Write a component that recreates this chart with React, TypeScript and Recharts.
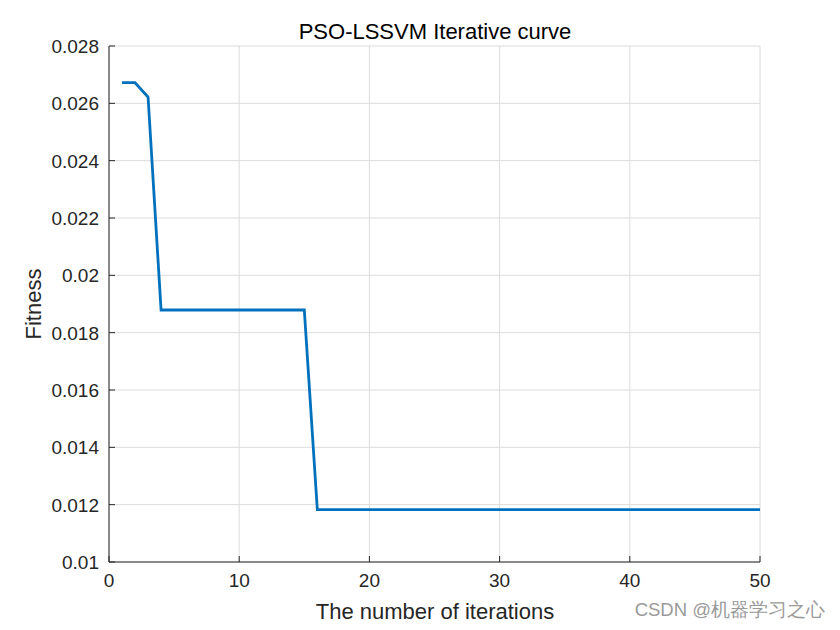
import React from "react";
import { LineChart, Line, XAxis, YAxis, CartesianGrid } from "recharts";

const iterations: number[] = Array.from({ length: 50 }, (_, i) => i + 1);
const fitnessValues: number[] = [
  0.02672, 0.02672, 0.02622, 0.01879, 0.01879, 0.01879, 0.01879, 0.01879, 0.01879, 0.01879,
  0.01879, 0.01879, 0.01879, 0.01879, 0.01879, 0.01183, 0.01183, 0.01183, 0.01183, 0.01183,
  0.01183, 0.01183, 0.01183, 0.01183, 0.01183, 0.01183, 0.01183, 0.01183, 0.01183, 0.01183,
  0.01183, 0.01183, 0.01183, 0.01183, 0.01183, 0.01183, 0.01183, 0.01183, 0.01183, 0.01183,
  0.01183, 0.01183, 0.01183, 0.01183, 0.01183, 0.01183, 0.01183, 0.01183, 0.01183, 0.01183,
];
const xTicks: number[] = [0, 10, 20, 30, 40, 50];
const yTicks: number[] = [0.01, 0.012, 0.014, 0.016, 0.018, 0.02, 0.022, 0.024, 0.026, 0.028];

const data = iterations.map((it, i) => ({ it, fit: fitnessValues[i] }));

const FONT = "'Liberation Sans', Arial, Helvetica, sans-serif";
const AX = "#262626";
const fmtY = (v: number) => String(+v.toFixed(3));

const BottomTick = (props: any) => {
  const { x, y, payload } = props;
  return (
    <g>
      <line x1={x} y1={y} x2={x} y2={y - 6} stroke={AX} strokeWidth={1} />
      <text x={x} y={y + 25} textAnchor="middle" fill={AX} fontSize={19} fontFamily={FONT}>
        {payload.value}
      </text>
    </g>
  );
};
const TopTick = (props: any) => {
  const { x, y } = props;
  return <line x1={x} y1={y} x2={x} y2={y + 6} stroke={AX} strokeWidth={1} />;
};
const LeftTick = (props: any) => {
  const { x, y, payload } = props;
  return (
    <g>
      <line x1={x} y1={y} x2={x + 6} y2={y} stroke={AX} strokeWidth={1} />
      <text x={x - 10} y={y + 7} textAnchor="end" fill={AX} fontSize={19} fontFamily={FONT}>
        {fmtY(payload.value)}
      </text>
    </g>
  );
};
const RightTick = (props: any) => {
  const { x, y } = props;
  return <line x1={x} y1={y} x2={x - 6} y2={y} stroke={AX} strokeWidth={1} />;
};

export default function App() {
  return (
    <div style={{ position: "absolute", left: 0, top: 0, width: 840, height: 630, background: "#fff" }}>
      <LineChart
        width={840}
        height={630}
        data={data}
        margin={{ top: 46, right: 80, bottom: 38, left: 49 }}
      >
        <CartesianGrid stroke="#dcdcdc" strokeWidth={1} xAxisId="b" yAxisId="l" />
        <XAxis
          xAxisId="b"
          dataKey="it"
          type="number"
          domain={[0, 50]}
          ticks={xTicks}
          height={30}
          tickSize={0}
          tickMargin={0}
          tick={<BottomTick />}
          tickLine={false}
          stroke={AX}
        />
        <XAxis
          xAxisId="t"
          orientation="top"
          dataKey="it"
          type="number"
          domain={[0, 50]}
          ticks={xTicks}
          height={0}
          tickSize={0}
          tickMargin={0}
          tick={<TopTick />}
          tickLine={false}
          stroke={AX}
        />
        <YAxis
          yAxisId="l"
          type="number"
          domain={[0.01, 0.028]}
          ticks={yTicks}
          width={60}
          tickSize={0}
          tickMargin={0}
          tick={<LeftTick />}
          tickLine={false}
          stroke={AX}
        />
        <YAxis
          yAxisId="r"
          orientation="right"
          type="number"
          domain={[0.01, 0.028]}
          ticks={yTicks}
          width={0}
          tickSize={0}
          tickMargin={0}
          tick={<RightTick />}
          tickLine={false}
          stroke={AX}
        />
        <Line
          xAxisId="b"
          yAxisId="l"
          type="linear"
          dataKey="fit"
          stroke="#0072BD"
          strokeWidth={2.8}
          dot={false}
          isAnimationActive={false}
        />
        <text x={435} y={39} textAnchor="middle" fill="#000" fontSize={22} fontFamily={FONT}>
          PSO-LSSVM Iterative curve
        </text>
        <text x={435} y={619} textAnchor="middle" fill={AX} fontSize={22} fontFamily={FONT}>
          The number of iterations
        </text>
        <text
          x={41}
          y={304}
          textAnchor="middle"
          fill={AX}
          fontSize={22}
          fontFamily={FONT}
          transform="rotate(-90 41 304)"
        >
          Fitness
        </text>
        <text x={825} y={616} textAnchor="end" fill="#9a9a9a" fontSize={18.5} fontFamily={FONT}>
          CSDN @机器学习之心
        </text>
      </LineChart>
    </div>
  );
}
